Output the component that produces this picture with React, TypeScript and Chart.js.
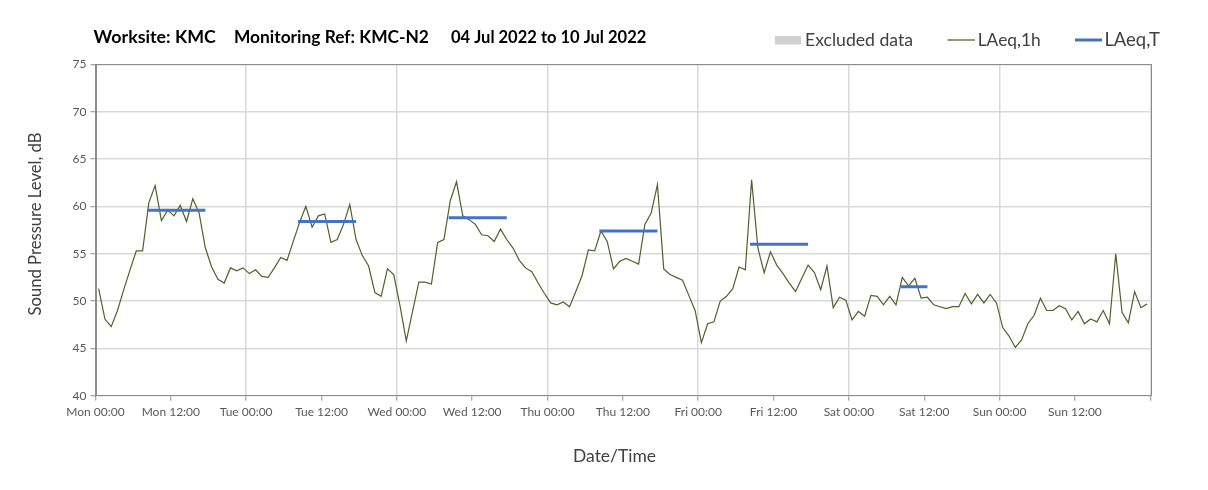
import React, { useEffect, useRef } from "react";
import { Chart, registerables } from "chart.js";

Chart.register(...registerables);

// ---- Data (hourly LAeq,1h per day, dB) ----
const dayNames = ["Mon", "Tue", "Wed", "Thu", "Fri", "Sat", "Sun"];
const monLAeq1h = [51.3, 48.1, 47.3, 49.0, 51.2, 53.3, 55.3, 55.3, 60.4, 62.2, 58.5, 59.6, 59.0, 60.1, 58.4, 60.8, 59.3, 55.6, 53.6, 52.3, 51.9, 53.5, 53.2, 53.5];
const tueLAeq1h = [52.9, 53.3, 52.6, 52.5, 53.5, 54.6, 54.3, 56.3, 58.3, 60.0, 57.8, 59.0, 59.2, 56.2, 56.5, 58.1, 60.2, 56.5, 54.8, 53.7, 50.9, 50.5, 53.4, 52.8];
const wedLAeq1h = [49.5, 45.8, 48.9, 52.0, 52.0, 51.8, 56.2, 56.5, 60.6, 62.6, 59.0, 58.6, 58.1, 57.0, 56.9, 56.3, 57.6, 56.5, 55.6, 54.3, 53.5, 53.1, 51.9, 50.8];
const thuLAeq1h = [49.8, 49.6, 49.9, 49.4, 51.0, 52.7, 55.4, 55.3, 57.4, 56.3, 53.4, 54.2, 54.5, 54.2, 53.9, 58.1, 59.3, 62.3, 53.4, 52.8, 52.5, 52.2, 50.6, 49.0];
const friLAeq1h = [45.6, 47.6, 47.8, 50.0, 50.5, 51.3, 53.6, 53.3, 62.8, 55.6, 53.0, 55.2, 53.8, 52.9, 51.9, 51.0, 52.4, 53.8, 53.0, 51.2, 53.7, 49.3, 50.4, 50.1];
const satLAeq1h = [48.0, 48.9, 48.4, 50.6, 50.5, 49.6, 50.5, 49.6, 52.5, 51.6, 52.4, 50.3, 50.4, 49.6, 49.4, 49.2, 49.4, 49.4, 50.8, 49.7, 50.7, 49.8, 50.7, 49.8];
const sunLAeq1h = [47.2, 46.3, 45.1, 45.9, 47.6, 48.5, 50.3, 49.0, 49.0, 49.5, 49.2, 48.0, 48.9, 47.6, 48.1, 47.8, 49.0, 47.6, 55.0, 48.8, 47.7, 51.0, 49.3, 49.7];

// LAeq,T per day (Mon..Sat) and the period it covers (hour of day)
const laeqT = [59.6, 58.4, 58.8, 57.4, 56.0, 51.5];
const periodStartHour = [8.25, 8.25, 8.25, 8.25, 8.25, 8.25];
const periodEndHour = [17.5, 17.5, 17.5, 17.5, 17.5, 12.5];

const yTicks = [40, 45, 50, 55, 60, 65, 70, 75];
const xTickHours = [0, 12];

const titleParts = ["Worksite: KMC", "Monitoring Ref: KMC-N2", "04 Jul 2022 to 10 Jul 2022"];
const legendLabels = ["Excluded data", "LAeq,1h", "LAeq,T"];
const yAxisTitle = "Sound Pressure Level, dB";
const xAxisTitle = "Date/Time";

const FONT = 'Lato, "Open Sans", "DejaVu Sans", sans-serif';

const W = 1208;
const H = 490;
const AREA = { left: 95.5, right: 1150.3, top: 64.4, bottom: 395.7 };

function fitText(
  ctx: CanvasRenderingContext2D,
  text: string,
  x: number,
  y: number,
  targetW: number,
  weight: string,
  base: number,
  align: CanvasTextAlign
) {
  ctx.font = `${weight} ${base}px ${FONT}`;
  const m = ctx.measureText(text).width;
  const size = m > 0 ? (base * targetW) / m : base;
  ctx.font = `${weight} ${size.toFixed(2)}px ${FONT}`;
  ctx.textAlign = align;
  ctx.textBaseline = "middle";
  ctx.fillText(text, x, y);
}

const decorPlugin = {
  id: "decor",
  afterDraw(chart: any) {
    const ctx: CanvasRenderingContext2D = chart.ctx;
    const a = chart.chartArea;
    ctx.save();
    // plot border
    ctx.strokeStyle = "#8c8c8c";
    ctx.lineWidth = 1;
    ctx.strokeRect(Math.round(a.left) + 0.5, Math.round(a.top) + 0.5, Math.round(a.right - a.left), Math.round(a.bottom - a.top));

    // title
    ctx.fillStyle = "#000000";
    fitText(ctx, titleParts[0], 93.6, 37.5, 122.4, "bold", 15, "left");
    fitText(ctx, titleParts[1], 234, 37.5, 195, "bold", 15, "left");
    fitText(ctx, titleParts[2], 451, 37.5, 195.5, "bold", 15, "left");

    // legend
    ctx.fillStyle = "#d0d0d0";
    ctx.fillRect(775, 36, 26, 8.5);
    ctx.fillStyle = "#404040";
    fitText(ctx, legendLabels[0], 805, 40, 108, "normal", 16, "left");
    ctx.strokeStyle = "#4f6228";
    ctx.lineWidth = 1.25;
    ctx.beginPath();
    ctx.moveTo(947.5, 40);
    ctx.lineTo(975, 40);
    ctx.stroke();
    ctx.fillStyle = "#404040";
    fitText(ctx, legendLabels[1], 977.7, 40, 63, "normal", 16, "left");
    ctx.strokeStyle = "#4472c4";
    ctx.lineWidth = 3;
    ctx.beginPath();
    ctx.moveTo(1075, 40);
    ctx.lineTo(1102, 40);
    ctx.stroke();
    fitText(ctx, legendLabels[2], 1104.4, 40, 55.6, "normal", 16, "left");

    // axis titles
    ctx.fillStyle = "#404040";
    fitText(ctx, xAxisTitle, 614.5, 456, 83, "normal", 16, "center");
    ctx.translate(36, 224);
    ctx.rotate(-Math.PI / 2);
    fitText(ctx, yAxisTitle, 0, 0, 183, "normal", 15, "center");
    ctx.restore();
  },
};

export default function App() {
  const ref = useRef<HTMLCanvasElement | null>(null);

  useEffect(() => {
    if (!ref.current) return;
    const hourly = [monLAeq1h, tueLAeq1h, wedLAeq1h, thuLAeq1h, friLAeq1h, satLAeq1h, sunLAeq1h].flat();
    const linePts = hourly.map((v, i) => ({ x: i + 0.5, y: v }));
    const tPts: { x: number; y: number | null }[] = [];
    laeqT.forEach((v, d) => {
      tPts.push({ x: d * 24 + periodStartHour[d], y: v });
      tPts.push({ x: d * 24 + periodEndHour[d], y: v });
      tPts.push({ x: d * 24 + periodEndHour[d] + 0.01, y: null });
    });

    const chart = new Chart(ref.current, {
      type: "line",
      data: {
        datasets: [
          {
            label: legendLabels[2],
            data: tPts as any,
            borderColor: "#4472c4",
            borderWidth: 3,
            pointRadius: 0,
            spanGaps: false,
            order: 0,
          },
          {
            label: legendLabels[1],
            data: linePts,
            borderColor: "#4f6228",
            borderWidth: 1.2,
            pointRadius: 0,
            tension: 0,
            order: 1,
          },
        ],
      },
      options: {
        responsive: false,
        animation: false,
        devicePixelRatio: 1,
        layout: { padding: { left: 0, right: W - AREA.right, top: AREA.top, bottom: 0 } },
        plugins: {
          legend: { display: false },
          title: { display: false },
          tooltip: { enabled: false },
        },
        scales: {
          x: {
            type: "linear",
            min: 0,
            max: 168,
            afterFit: (s: any) => {
              s.height = H - AREA.bottom;
            },
            afterBuildTicks: (s: any) => {
              const t: any[] = [];
              for (let d = 0; d <= 7; d++) {
                for (const h of xTickHours) {
                  const v = d * 24 + h;
                  if (v <= 168) t.push({ value: v });
                }
              }
              s.ticks = t;
            },
            ticks: {
              autoSkip: false,
              maxRotation: 0,
              minRotation: 0,
              padding: 4,
              color: "#595959",
              font: { family: FONT, size: 12 },
              callback: (v: any) => {
                const n = Number(v);
                if (n >= 168) return "";
                const d = Math.floor(n / 24);
                const h = n % 24;
                return `${dayNames[d]} ${h === 0 ? "00:00" : "12:00"}`;
              },
            },
            grid: {
              color: (c: any) => (c.tick && c.tick.value % 24 === 0 ? "#d9d9d9" : "rgba(0,0,0,0)"),
              lineWidth: 1.5,
              tickColor: "#8c8c8c",
              tickLength: 5,
              tickWidth: 1,
            },
            border: { color: "#8c8c8c", width: 1 },
          },
          y: {
            min: 40,
            max: 75,
            afterFit: (s: any) => {
              s.width = AREA.left;
            },
            afterBuildTicks: (s: any) => {
              s.ticks = yTicks.map((v) => ({ value: v }));
            },
            ticks: {
              padding: 4,
              color: "#595959",
              font: { family: FONT, size: 12 },
            },
            grid: {
              color: "#d9d9d9",
              lineWidth: 1.5,
              tickColor: "#8c8c8c",
              tickLength: 5,
              tickWidth: 1,
            },
            border: { color: "#8c8c8c", width: 1 },
          },
        },
      },
      plugins: [decorPlugin],
    });
    return () => chart.destroy();
  }, []);

  return (
    <div style={{ position: "fixed", left: 0, top: 0, width: W, height: H, background: "#ffffff" }}>
      <canvas ref={ref} width={W} height={H} style={{ width: W, height: H, display: "block" }} />
    </div>
  );
}
